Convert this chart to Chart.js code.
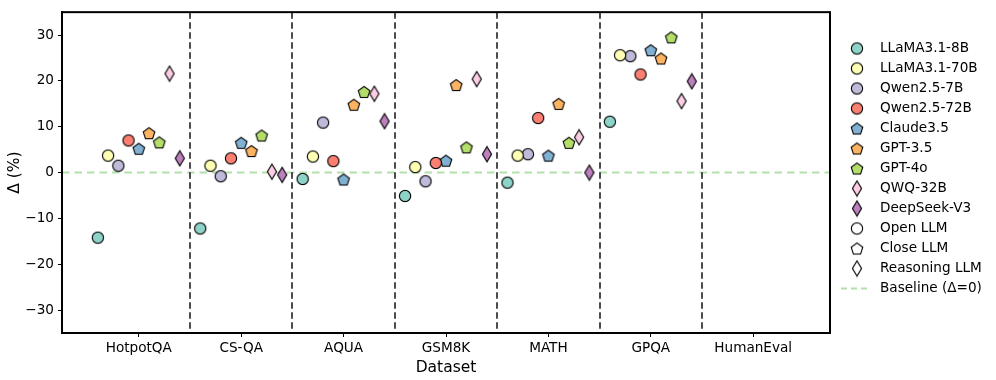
<!DOCTYPE html>
<html>
<head>
<meta charset="utf-8">
<script src="https://cdn.jsdelivr.net/npm/chart.js@4"></script>
<style>
  body { margin: 0; background: #fff; }
  canvas { display: block; }
</style>
</head>
<body>
<canvas id="chart" width="996" height="380"></canvas>
<script>
// categories on the x axis
const categories = ['HotpotQA', 'CS-QA', 'AQUA', 'GSM8K', 'MATH', 'GPQA', 'HumanEval'];
const yTicks = [-30, -20, -10, 0, 10, 20, 30];

// delta (%) per model, one value per category (HumanEval has none)
const llama8b  = [-14.2, -12.2, -1.4, -5.1, -2.2, 11.1, null];
const llama70b = [3.7, 1.5, 3.5, 1.2, 3.7, 25.6, null];
const qwen7b   = [1.5, -0.8, 10.9, -1.9, 4.0, 25.4, null];
const qwen72b  = [7.0, 3.1, 2.5, 2.1, 11.9, 21.4, null];
const claude35 = [5.2, 6.5, -1.5, 2.6, 3.7, 26.7, null];
const gpt35    = [8.6, 4.7, 14.8, 19.1, 15.0, 24.9, null];
const gpt4o    = [6.6, 8.1, 17.6, 5.5, 6.5, 29.5, null];
const qwq32b   = [21.6, 0.2, 17.2, 20.4, 7.7, 15.6, null];
const deepseek = [3.1, -0.5, 11.2, 4.0, 0.0, 19.9, null];

const models = [
    { name: 'LLaMA3.1-8B', data: llama8b, color: '#8dd3c7', shape: 'circle' },
    { name: 'LLaMA3.1-70B', data: llama70b, color: '#ffffb3', shape: 'circle' },
    { name: 'Qwen2.5-7B', data: qwen7b, color: '#bebada', shape: 'circle' },
    { name: 'Qwen2.5-72B', data: qwen72b, color: '#fb8072', shape: 'circle' },
    { name: 'Claude3.5', data: claude35, color: '#80b1d3', shape: 'pentagon' },
    { name: 'GPT-3.5', data: gpt35, color: '#fdb462', shape: 'pentagon' },
    { name: 'GPT-4o', data: gpt4o, color: '#b3de69', shape: 'pentagon' },
    { name: 'QWQ-32B', data: qwq32b, color: '#fccde5', shape: 'diamond' },
    { name: 'DeepSeek-V3', data: deepseek, color: '#bc80bd', shape: 'diamond' }
];

const shapeLegend = [
    { name: 'Open LLM', shape: 'circle' },
    { name: 'Close LLM', shape: 'pentagon' },
    { name: 'Reasoning LLM', shape: 'diamond' }
];

// draw a marker at 4x and hand it back as an image shown at 16x18
function marker(shape, fill) {
    const S = 4;
    const c = document.createElement('canvas');
    c.width = 16 * S; c.height = 18 * S;
    const g = c.getContext('2d');
    g.scale(S, S);
    const cx = 8, cy = 9;
    g.beginPath();
    if (shape === 'circle') {
        g.arc(cx, cy, 5.6, 0, Math.PI * 2);
    } else if (shape === 'pentagon') {
        for (let i = 0; i < 5; i++) {
            const a = -Math.PI / 2 + i * 2 * Math.PI / 5;
            const px = cx + 6.1 * Math.cos(a), py = cy + 0.6 + 6.1 * Math.sin(a);
            i ? g.lineTo(px, py) : g.moveTo(px, py);
        }
    } else {
        g.moveTo(cx, cy - 7.6);
        g.lineTo(cx + 4.6, cy);
        g.lineTo(cx, cy + 7.6);
        g.lineTo(cx - 4.6, cy);
    }
    g.closePath();
    g.fillStyle = fill;
    g.fill();
    g.lineWidth = 1.1;
    g.strokeStyle = '#000';
    g.stroke();
    const img = new Image(16, 18);
    const ready = new Promise(res => { img.onload = res; });
    img.src = c.toDataURL();
    img.ready = ready;
    return img;
}

const pointImgs = models.map(m => marker(m.shape, m.color));
const legendRows = models.map((m, i) => ({ name: m.name, img: pointImgs[i] }))
    .concat(shapeLegend.map(s => ({ name: s.name, img: marker(s.shape, '#fff') })));

const datasets = models.map((m, mi) => ({
    label: m.name,
    data: m.data
        .map((v, ci) => ({ x: ci + (mi - 4) * 0.1, y: v }))
        .filter(p => p.y !== null),
    pointStyle: pointImgs[mi],
    backgroundColor: m.color
}));

const framePlugin = {
    id: 'frame',
    beforeDatasetsDraw(chart) {
        const { ctx, chartArea: a, scales: { x, y } } = chart;
        ctx.save();
        // baseline
        ctx.strokeStyle = 'rgba(160,215,150,0.8)';
        ctx.lineWidth = 2;
        ctx.setLineDash([7.5, 5]);
        const y0 = y.getPixelForValue(0);
        ctx.beginPath();
        ctx.moveTo(a.left, y0);
        ctx.lineTo(a.right, y0);
        ctx.stroke();
        // separators between datasets
        ctx.strokeStyle = 'rgba(0,0,0,0.7)';
        ctx.lineWidth = 2;
        ctx.setLineDash([6.5, 3.5]);
        for (let i = 0; i < categories.length - 1; i++) {
            const px = Math.round(x.getPixelForValue(i + 0.5));
            ctx.beginPath();
            ctx.moveTo(px, a.top);
            ctx.lineTo(px, a.bottom);
            ctx.stroke();
        }
        ctx.restore();
    },
    afterDraw(chart) {
        const { ctx, chartArea: a } = chart;
        ctx.save();
        ctx.strokeStyle = '#000';
        ctx.lineWidth = 2;
        ctx.strokeRect(a.left, a.top, a.right - a.left, a.bottom - a.top);

        // legend
        const mx = 857, tx = 880;
        let ly = 48.5;
        ctx.font = '13.6px "DejaVu Sans"';
        ctx.fillStyle = '#000';
        ctx.textBaseline = 'middle';
        legendRows.forEach(r => {
            ctx.drawImage(r.img, mx - 8, ly - 9, 16, 18);
            ctx.fillText(r.name, tx, ly);
            ly += 20;
        });
        ctx.strokeStyle = 'rgba(160,215,150,0.8)';
        ctx.lineWidth = 2;
        ctx.setLineDash([6, 4]);
        ctx.beginPath();
        ctx.moveTo(841, ly);
        ctx.lineTo(870, ly);
        ctx.stroke();
        ctx.fillText('Baseline (\u0394=0)', tx, ly);
        ctx.restore();
    }
};

Chart.defaults.font.family = '"DejaVu Sans"';
Chart.defaults.color = '#000';

Promise.all(legendRows.map(r => r.img.ready)).then(() => {
    new Chart(document.getElementById('chart'), {
        type: 'scatter',
        data: { datasets },
        options: {
            responsive: false,
            animation: false,
            layout: { padding: { top: 7, right: 166, left: 0, bottom: 0 } },
            plugins: { legend: { display: false }, tooltip: { enabled: false } },
            scales: {
                x: {
                    type: 'linear',
                    min: -0.75,
                    max: 6.75,
                    afterBuildTicks: s => { s.ticks = categories.map((_, i) => ({ value: i })); },
                    afterFit: s => { s.height = 47; },
                    ticks: { font: { size: 13.6 }, padding: 3, callback: v => categories[v] },
                    grid: { drawOnChartArea: false, drawTicks: true, tickLength: 4, tickColor: '#000', tickWidth: 1 },
                    border: { display: true, color: '#000', width: 2 },
                    title: { display: true, text: 'Dataset', font: { size: 15.5 }, padding: { top: 0, bottom: 3 } }
                },
                y: {
                    min: -35,
                    max: 35,
                    afterBuildTicks: s => { s.ticks = yTicks.map(v => ({ value: v })); },
                    afterFit: s => { s.width = 62; },
                    ticks: { font: { size: 13.6 }, padding: 4, callback: v => String(v).replace('-', '\u2212') },
                    grid: { drawOnChartArea: false, drawTicks: true, tickLength: 4, tickColor: '#000', tickWidth: 1 },
                    border: { display: true, color: '#000', width: 2 },
                    title: { display: true, text: '\u0394 (%)', font: { size: 15.5 }, padding: { top: 6, bottom: 0 } }
                }
            }
        },
        plugins: [framePlugin]
    });
});
</script>
</body>
</html>
